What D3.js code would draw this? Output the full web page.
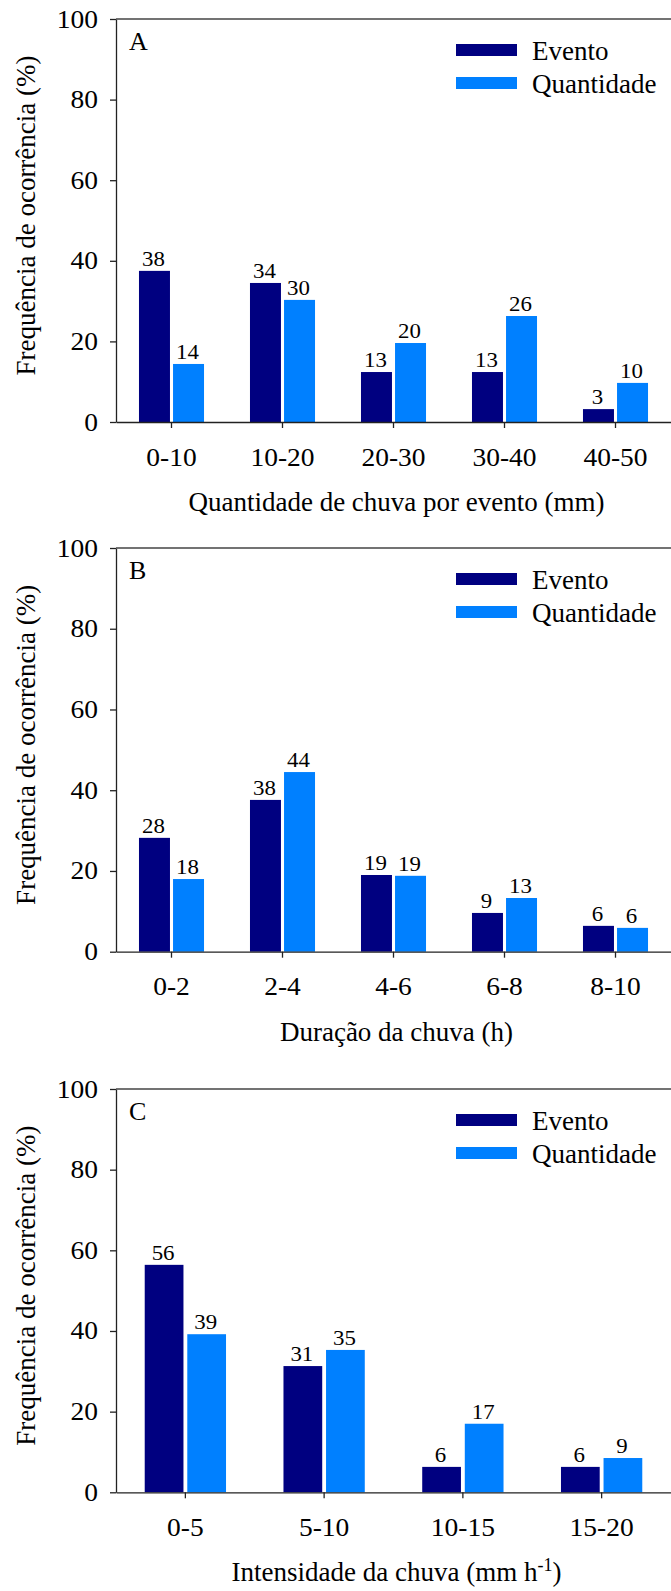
<!DOCTYPE html>
<html>
<head>
<meta charset="utf-8">
<script src="https://cdn.jsdelivr.net/npm/d3@7"></script>
<style>
  body { margin: 0; background: #fff; }
  svg { display: block; }
</style>
</head>
<body>
<svg id="chart" width="671" height="1591"></svg>
<script>
// Dados
const seriesNames = ['Evento', 'Quantidade'];
const seriesColors = ['#000080', '#0080ff'];
const yTicks = [0, 20, 40, 60, 80, 100];

// Painel A - quantidade de chuva por evento
const catsA = ['0-10', '10-20', '20-30', '30-40', '40-50'];
const eventoA = [37.5, 34.5, 12.4, 12.4, 3.2];
const quantA = [14.4, 30.3, 19.6, 26.3, 9.7];
const eventoLabelsA = ['38', '34', '13', '13', '3'];
const quantLabelsA = ['14', '30', '20', '26', '10'];

// Painel B - duração da chuva
const catsB = ['0-2', '2-4', '4-6', '6-8', '8-10'];
const eventoB = [28.2, 37.6, 19.0, 9.6, 6.4];
const quantB = [18.0, 44.5, 18.8, 13.3, 5.9];
const eventoLabelsB = ['28', '38', '19', '9', '6'];
const quantLabelsB = ['18', '44', '19', '13', '6'];

// Painel C - intensidade da chuva
const catsC = ['0-5', '5-10', '10-15', '15-20'];
const eventoC = [56.4, 31.3, 6.3, 6.3];
const quantC = [39.2, 35.3, 17.0, 8.5];
const eventoLabelsC = ['56', '31', '6', '6'];
const quantLabelsC = ['39', '35', '17', '9'];

const FONT = "'Liberation Serif', 'Times New Roman', Times, 'DejaVu Serif', serif";
const svg = d3.select('#chart').attr('font-family', FONT);
const left = 116, right = 671;

// Estica o texto na horizontal (os rótulos do original são um pouco largos)
function stretchText(sel, k) {
    sel.each(function () {
        const len = this.getComputedTextLength();
        d3.select(this).attr('textLength', len * k).attr('lengthAdjust', 'spacingAndGlyphs');
    });
}

// Função para desenhar um painel
function drawPanel(opts) {
    const g = svg.append('g');
    const x = d3.scaleBand().domain(opts.cats).range([left, right]).padding(0);
    const y = d3.scaleLinear().domain([0, 100]).range([opts.bottom, opts.top]);
    const groupW = x.step() * 0.586;
    const inner = d3.scaleBand().domain(seriesNames).range([0, groupW]).paddingInner(0.09);

    const rows = opts.cats.map((c, i) => ({
        cat: c,
        vals: [
            { s: 0, v: opts.evento[i], lab: opts.eventoLabels[i] },
            { s: 1, v: opts.quant[i], lab: opts.quantLabels[i] }
        ]
    }));

    const groups = g.selectAll('g.grp')
        .data(rows)
        .enter().append('g')
        .attr('transform', d => `translate(${x(d.cat) + (x.step() - groupW) / 2},0)`);

    groups.selectAll('rect')
        .data(d => d.vals)
        .enter().append('rect')
        .attr('x', d => inner(seriesNames[d.s]))
        .attr('y', d => y(d.v))
        .attr('width', inner.bandwidth())
        .attr('height', d => y(0) - y(d.v))
        .attr('fill', d => seriesColors[d.s]);

    const vals = groups.selectAll('text.val')
        .data(d => d.vals)
        .enter().append('text')
        .attr('class', 'val')
        .attr('x', d => inner(seriesNames[d.s]) + inner.bandwidth() / 2 - 1)
        .attr('y', d => y(d.v) - 5)
        .attr('text-anchor', 'middle')
        .attr('font-size', 22)
        .text(d => d.lab);
    stretchText(vals, 1.04);

    // Eixo Y
    const ay = g.append('g')
        .attr('transform', `translate(${left},0)`)
        .call(d3.axisLeft(y).tickValues(yTicks).tickSize(6).tickSizeOuter(0).tickPadding(12));
    ay.attr('font-family', FONT).attr('font-size', 25);
    ay.selectAll('text').attr('fill', '#000');
    ay.selectAll('line, path').attr('stroke', '#222').attr('stroke-width', 1.3);
    stretchText(ay.selectAll('text'), 1.1);

    // Eixo X
    const ax = g.append('g')
        .attr('transform', `translate(0,${opts.bottom})`)
        .call(d3.axisBottom(x).tickSize(6).tickSizeOuter(0).tickPadding(20));
    ax.attr('font-family', FONT).attr('font-size', 25);
    ax.selectAll('text').attr('fill', '#000');
    ax.selectAll('line, path').attr('stroke', '#222').attr('stroke-width', 1.3);
    stretchText(ax.selectAll('text'), 1.1);

    // Linha superior
    g.append('line')
        .attr('x1', left).attr('x2', right)
        .attr('y1', opts.top).attr('y2', opts.top)
        .attr('stroke', '#444').attr('stroke-width', 1.3);

    // Letra do painel
    g.append('text')
        .attr('x', 129).attr('y', opts.top + 31)
        .attr('font-size', 26)
        .text(opts.letter);

    // Legenda
    const leg = g.selectAll('g.leg')
        .data(seriesNames)
        .enter().append('g')
        .attr('transform', (d, i) => `translate(0,${opts.top + 25 + i * 33})`);
    leg.append('rect')
        .attr('x', 456).attr('y', 0)
        .attr('width', 61).attr('height', 12)
        .attr('fill', (d, i) => seriesColors[i]);
    leg.append('text')
        .attr('x', 532).attr('y', 15.5)
        .attr('font-size', 27)
        .text(d => d);

    // Título do eixo Y
    g.append('text')
        .attr('transform', `translate(35,${(opts.top + opts.bottom) / 2 - 5}) rotate(-90)`)
        .attr('text-anchor', 'middle')
        .attr('font-size', 27)
        .text('Frequência de ocorrência (%)');

    // Título do eixo X
    const xt = g.append('text')
        .attr('x', (left + right) / 2 + 3)
        .attr('y', opts.bottom + 89)
        .attr('text-anchor', 'middle')
        .attr('font-size', 27);
    xt.append('tspan').text(opts.xTitle);
    if (opts.xSup) {
        xt.append('tspan').attr('dy', -10).attr('font-size', 18).text(opts.xSup);
        xt.append('tspan').attr('dy', 10).text(')');
    }
}

drawPanel({ letter: 'A', top: 19, bottom: 422, cats: catsA, evento: eventoA, quant: quantA,
    eventoLabels: eventoLabelsA, quantLabels: quantLabelsA, xTitle: 'Quantidade de chuva por evento (mm)' });
drawPanel({ letter: 'B', top: 548, bottom: 951.7, cats: catsB, evento: eventoB, quant: quantB,
    eventoLabels: eventoLabelsB, quantLabels: quantLabelsB, xTitle: 'Duração da chuva (h)' });
drawPanel({ letter: 'C', top: 1089, bottom: 1492.3, cats: catsC, evento: eventoC, quant: quantC,
    eventoLabels: eventoLabelsC, quantLabels: quantLabelsC, xTitle: 'Intensidade da chuva (mm h', xSup: '-1' });
</script>
</body>
</html>
